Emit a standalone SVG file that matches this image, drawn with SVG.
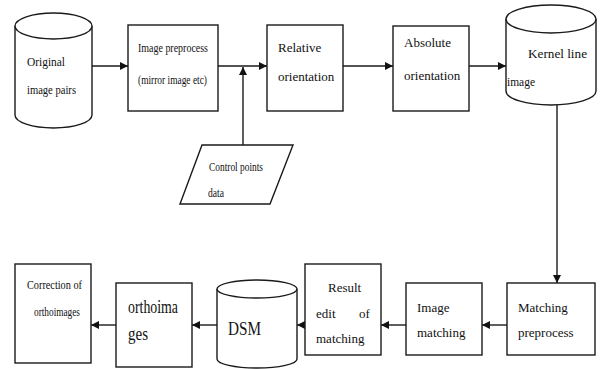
<svg xmlns="http://www.w3.org/2000/svg" width="600" height="370" viewBox="0 0 600 370" font-family="Liberation Serif, Times New Roman, serif">
<defs>
<marker id="ah" viewBox="0 0 10 10" refX="10" refY="5" markerWidth="9" markerHeight="8" markerUnits="userSpaceOnUse" orient="auto">
<path d="M0,0 L10,5 L0,10 z" fill="#111"/>
</marker>
<style>
.s{fill:#fff;stroke:#1a1a1a;stroke-width:1.4}
.c{fill:none;stroke:#1a1a1a;stroke-width:1.4;marker-end:url(#ah)}
.sm{font-size:12px;fill:#111}
.md{font-size:13px;fill:#111}
.lg{font-size:18px;fill:#111}
</style>
</defs>
<rect width="600" height="370" fill="#fff"/>
<g id="connectors">
<line class="c" x1="92" y1="66" x2="128" y2="66"/>
<line class="c" x1="218" y1="66" x2="267" y2="66"/>
<line class="c" x1="243" y1="145" x2="243" y2="67"/>
<line class="c" x1="343" y1="66" x2="393" y2="66"/>
<line class="c" x1="469" y1="66" x2="506" y2="66"/>
<line class="c" x1="557" y1="105" x2="557" y2="283"/>
<line class="c" x1="507" y1="325" x2="482" y2="325"/>
<line class="c" x1="406" y1="325" x2="381" y2="325"/>
<line class="c" x1="305" y1="325" x2="297" y2="325"/>
<line class="c" x1="217" y1="325" x2="192" y2="325"/>
<line class="c" x1="116" y1="325" x2="91" y2="325"/>
</g>
<g id="original">
<path class="s" d="M15,26 L15,115 A38.5,13 0 0 0 92,115 L92,26"/>
<ellipse class="s" cx="53.5" cy="26" rx="38.5" ry="13"/>
<text class="sm" x="27" y="66" textLength="38" lengthAdjust="spacingAndGlyphs">Original</text>
<text class="sm" x="27" y="94" textLength="49" lengthAdjust="spacingAndGlyphs">image pairs</text>
</g>
<g id="preprocess">
<rect class="s" x="128" y="25" width="90" height="86"/>
<text class="sm" x="138" y="52" textLength="70" lengthAdjust="spacingAndGlyphs">Image  preprocess</text>
<text class="sm" x="138" y="84" textLength="69" lengthAdjust="spacingAndGlyphs">(mirror image etc)</text>
</g>
<g id="relative">
<rect class="s" x="267" y="25" width="76" height="86"/>
<text class="md" x="278" y="52">Relative</text>
<text class="md" x="278" y="81">orientation</text>
</g>
<g id="absolute">
<rect class="s" x="393" y="26" width="76" height="85"/>
<text class="md" x="404" y="47">Absolute</text>
<text class="md" x="404" y="80">orientation</text>
</g>
<g id="kernel">
<path class="s" d="M506,19 L506,91 A45,14 0 0 0 596,91 L596,19"/>
<ellipse class="s" cx="551" cy="19" rx="45" ry="14"/>
<text class="sm" x="528" y="58" textLength="59" lengthAdjust="spacingAndGlyphs">Kernel    line</text>
<text class="sm" x="507" y="86" textLength="28" lengthAdjust="spacingAndGlyphs">image</text>
</g>
<g id="control">
<polygon class="s" points="202,145 293,145 270,204 180,204"/>
<text class="sm" x="209" y="171" textLength="54" lengthAdjust="spacingAndGlyphs">Control  points</text>
<text class="sm" x="208" y="197" textLength="16" lengthAdjust="spacingAndGlyphs">data</text>
</g>
<g id="matchprep">
<rect class="s" x="507" y="283" width="88" height="72"/>
<text class="md" x="518" y="312">Matching</text>
<text class="md" x="518" y="337">preprocess</text>
</g>
<g id="imagematch">
<rect class="s" x="406" y="283" width="76" height="72"/>
<text class="md" x="417" y="312">Image</text>
<text class="md" x="417" y="337">matching</text>
</g>
<g id="result">
<rect class="s" x="305" y="264" width="76" height="91"/>
<text class="md" x="328" y="292">Result</text>
<text class="md" x="316" y="318">edit</text>
<text class="md" x="359" y="318">of</text>
<text class="md" x="316" y="343">matching</text>
</g>
<g id="dsm">
<path class="s" d="M217,289 L217,359 A40,9 0 0 0 297,359 L297,289"/>
<ellipse class="s" cx="257" cy="289" rx="40" ry="9"/>
<text class="lg" x="228" y="335" textLength="33" lengthAdjust="spacingAndGlyphs">DSM</text>
</g>
<g id="orthoimages">
<rect class="s" x="116" y="283" width="76" height="84"/>
<text class="lg" x="128" y="313" textLength="50" lengthAdjust="spacingAndGlyphs">orthoima</text>
<text class="lg" x="128" y="340" textLength="20" lengthAdjust="spacingAndGlyphs">ges</text>
</g>
<g id="correction">
<rect class="s" x="15" y="264" width="76" height="99"/>
<text class="sm" x="27" y="289" textLength="55" lengthAdjust="spacingAndGlyphs">Correction   of</text>
<text class="sm" x="34" y="316" textLength="46" lengthAdjust="spacingAndGlyphs">orthoimages</text>
</g>
</svg>
